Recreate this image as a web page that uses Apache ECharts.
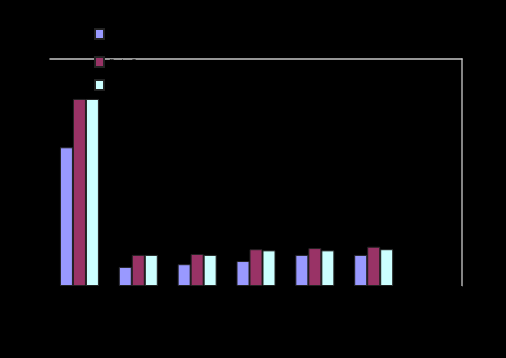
<!DOCTYPE html>
<html>
<head>
<meta charset="utf-8">
<script src="https://cdn.jsdelivr.net/npm/echarts@6/dist/echarts.min.js"></script>
<style>html,body{margin:0;padding:0;background:#000;}#c{width:506px;height:358px;}</style>
</head>
<body>
<div id="c"></div>
<script>
var categories = ['1', '2', '3', '4', '5', '6', '7'];
var series1 = [61.1, 8.4, 9.6, 11.0, 13.7, 13.7, null];
var series2 = [82.4, 13.7, 14.1, 16.2, 16.7, 17.3, null];
var series3 = [82.4, 13.7, 13.7, 15.7, 15.7, 16.2, null];
var seriesNames = ['Series1', 'Series2', 'Series3'];
var colors = ['#9999FF', '#993366', '#CCFFFF'];
var legendTops = [28, 56, 79];

var chart = echarts.init(document.getElementById('c'), null, {renderer: 'canvas'});
var data = [series1, series2, series3];
chart.setOption({
  backgroundColor: '#000000',
  animation: false,
  legend: seriesNames.map(function (n, i) {
    return {
      orient: 'vertical', left: 94, top: legendTops[i], padding: 0, icon: 'rect',
      itemWidth: 9, itemHeight: 10,
      textStyle: {color: '#000000', fontSize: 8, fontFamily: 'Liberation Sans'},
      data: [n]
    };
  }),
  grid: {left: 50, right: 44, top: 59, bottom: 72, show: false},
  xAxis: [
    {type: 'category', data: categories, position: 'bottom',
     axisLine: {onZero: false, lineStyle: {color: '#000000'}}, axisTick: {show: false},
     axisLabel: {color: '#000000'}},
    {type: 'category', data: categories, position: 'top',
     axisLine: {onZero: false, lineStyle: {color: '#C8C8C8', width: 1.5}}, axisTick: {show: false},
     axisLabel: {show: false}}
  ],
  yAxis: [
    {type: 'value', min: 0, max: 100, interval: 20, position: 'left',
     axisLine: {show: true, onZero: false, lineStyle: {color: '#000000'}}, axisLabel: {color: '#000000'},
     splitLine: {show: false}},
    {type: 'value', min: 0, max: 100, interval: 20, position: 'right',
     axisLine: {show: true, onZero: false, lineStyle: {color: '#B0B0B0', width: 1.5}}, axisLabel: {show: false},
     axisTick: {show: false}, splitLine: {show: false}}
  ],
  series: data.map(function (d, i) {
    return {
      name: seriesNames[i], type: 'bar', data: d, barWidth: 13, barGap: '0%',
      itemStyle: {color: colors[i], borderColor: '#222222', borderWidth: 1}
    };
  })
});
</script>
</body>
</html>
